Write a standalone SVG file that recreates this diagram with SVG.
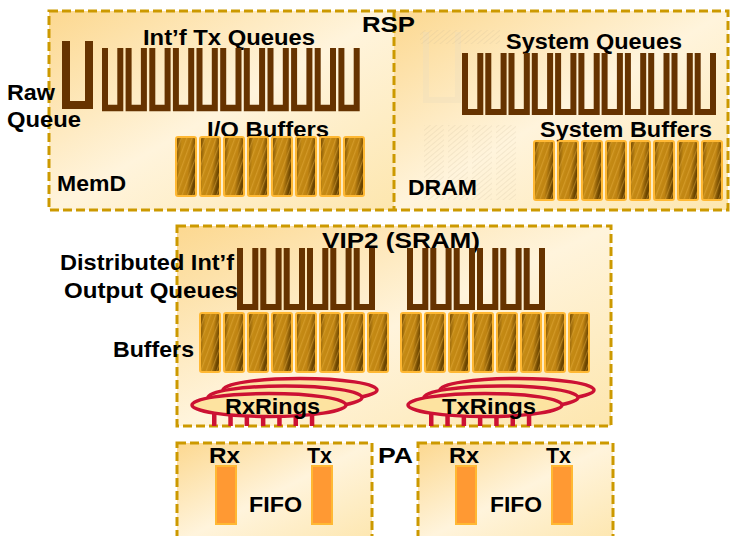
<svg xmlns="http://www.w3.org/2000/svg" width="731" height="536" viewBox="0 0 731 536">
<defs>
<style>
.box{stroke:#cc9900;stroke-width:3;stroke-dasharray:9 4;}
.t{font-family:"Liberation Sans",Arial,sans-serif;font-weight:bold;font-size:22px;fill:#000;}
.u{fill:none;stroke:#663300;stroke-width:6;stroke-linejoin:miter;}
.buf{fill:url(#bufG);stroke:#ffb833;stroke-width:2;}
.bufs{fill:url(#stripes);stroke:none;}
.ring{fill:#fde3a0;stroke:#cc1133;stroke-width:3.5;}
.pin{fill:#cc1133;}
.fifo{fill:#ff9933;stroke:#ffb833;stroke-width:2;}
.ghost{fill:url(#ghostP);stroke:none;opacity:0.35;}
</style>
<linearGradient id="bg" x1="0" y1="0" x2="1" y2="1">
<stop offset="0" stop-color="#fcd890"/>
<stop offset="0.5" stop-color="#fff4dc"/>
<stop offset="1" stop-color="#fde6ae"/>
</linearGradient>
<linearGradient id="bufG" x1="0" y1="0" x2="1" y2="0.25">
<stop offset="0" stop-color="#6a4200"/>
<stop offset="0.3" stop-color="#c48a14"/>
<stop offset="0.7" stop-color="#c08412"/>
<stop offset="1" stop-color="#6a4400"/>
</linearGradient>
<pattern id="stripes" width="5" height="5" patternUnits="userSpaceOnUse" patternTransform="rotate(20)">
<rect width="1.2" height="5" fill="#e8b040" opacity="0.45"/>
</pattern>
<pattern id="ghostP" width="4" height="4" patternUnits="userSpaceOnUse" patternTransform="rotate(-40)">
<rect width="4" height="1" fill="#c8b898" opacity="0.6"/>
</pattern>
<path id="U" class="u" d="M3,0 V57 H18.3 V0"/>
<path id="Ubig" d="M4,0 V64 H27 V0" fill="none" stroke="#663300" stroke-width="8"/>
<g id="B">
<rect class="buf" x="0" y="0" width="20" height="59" rx="2"/>
<rect class="bufs" x="1" y="1" width="18" height="57"/>
</g>
</defs>

<rect width="731" height="536" fill="#ffffff"/>

<g id="rsp">
<rect x="49" y="11" width="345" height="199" fill="url(#bg)"/>
<rect x="394" y="11" width="334" height="199" fill="url(#bg)"/>
<rect class="box" x="49" y="11" width="679" height="199" fill="none"/>
<line class="box" x1="394" y1="11" x2="394" y2="210"/>
<text class="t" x="362" y="32" textLength="53" lengthAdjust="spacingAndGlyphs">RSP</text>
</g>

<g id="dram-ghost">
<path d="M426,32 V100 H458 V32" fill="none" stroke="#eadcbc" stroke-width="6" opacity="0.35"/>
<rect class="ghost" x="424" y="125" width="20" height="75"/>
<rect class="ghost" x="448" y="125" width="20" height="75"/>
<rect class="ghost" x="472" y="125" width="20" height="75"/>
<rect class="ghost" x="496" y="125" width="20" height="75"/>
<rect class="ghost" x="420" y="30" width="80" height="14"/>
</g>

<g id="memd">
<text class="t" x="143" y="45" textLength="172" lengthAdjust="spacingAndGlyphs">Int’f Tx Queues</text>
<use href="#Ubig" x="62" y="41"/>
<use href="#U" transform="translate(102,48) scale(1,1.053)"/>
<use href="#U" transform="translate(125.6,48) scale(1,1.053)"/>
<use href="#U" transform="translate(149.3,48) scale(1,1.053)"/>
<use href="#U" transform="translate(172.9,48) scale(1,1.053)"/>
<use href="#U" transform="translate(196.5,48) scale(1,1.053)"/>
<use href="#U" transform="translate(220.2,48) scale(1,1.053)"/>
<use href="#U" transform="translate(243.8,48) scale(1,1.053)"/>
<use href="#U" transform="translate(267.5,48) scale(1,1.053)"/>
<use href="#U" transform="translate(291.1,48) scale(1,1.053)"/>
<use href="#U" transform="translate(314.7,48) scale(1,1.053)"/>
<use href="#U" transform="translate(338.4,48) scale(1,1.053)"/>
<text class="t" x="207" y="137" textLength="122" lengthAdjust="spacingAndGlyphs">I/O Buffers</text>
<use href="#B" x="176" y="137"/>
<use href="#B" x="200" y="137"/>
<use href="#B" x="224" y="137"/>
<use href="#B" x="248" y="137"/>
<use href="#B" x="272" y="137"/>
<use href="#B" x="296" y="137"/>
<use href="#B" x="320" y="137"/>
<use href="#B" x="344" y="137"/>
<text class="t" x="57" y="191" textLength="69" lengthAdjust="spacingAndGlyphs">MemD</text>
</g>

<g id="raw-queue">
<text class="t" x="7" y="100" textLength="48" lengthAdjust="spacingAndGlyphs">Raw</text>
<text class="t" x="7" y="127" textLength="74" lengthAdjust="spacingAndGlyphs">Queue</text>
</g>

<g id="dram">
<text class="t" x="506" y="49" textLength="176" lengthAdjust="spacingAndGlyphs">System Queues</text>
<use href="#U" transform="translate(462,53) scale(1,1.035)"/>
<use href="#U" transform="translate(485.3,53) scale(1,1.035)"/>
<use href="#U" transform="translate(508.5,53) scale(1,1.035)"/>
<use href="#U" transform="translate(531.8,53) scale(1,1.035)"/>
<use href="#U" transform="translate(555.1,53) scale(1,1.035)"/>
<use href="#U" transform="translate(578.4,53) scale(1,1.035)"/>
<use href="#U" transform="translate(601.6,53) scale(1,1.035)"/>
<use href="#U" transform="translate(624.9,53) scale(1,1.035)"/>
<use href="#U" transform="translate(648.2,53) scale(1,1.035)"/>
<use href="#U" transform="translate(671.5,53) scale(1,1.035)"/>
<use href="#U" transform="translate(694.7,53) scale(1,1.035)"/>
<text class="t" x="540" y="137" textLength="172" lengthAdjust="spacingAndGlyphs">System Buffers</text>
<use href="#B" x="534" y="141"/>
<use href="#B" x="558" y="141"/>
<use href="#B" x="582" y="141"/>
<use href="#B" x="606" y="141"/>
<use href="#B" x="630" y="141"/>
<use href="#B" x="654" y="141"/>
<use href="#B" x="678" y="141"/>
<use href="#B" x="702" y="141"/>
<text class="t" x="408" y="195" textLength="69" lengthAdjust="spacingAndGlyphs">DRAM</text>
</g>

<g id="vip2">
<rect class="box" x="177" y="226" width="434" height="200" fill="url(#bg)"/>
<text class="t" x="322" y="248" textLength="158" lengthAdjust="spacingAndGlyphs">VIP2 (SRAM)</text>
<use href="#U" transform="translate(237,248) scale(1,1.035)"/>
<use href="#U" transform="translate(260.3,248) scale(1,1.035)"/>
<use href="#U" transform="translate(283.7,248) scale(1,1.035)"/>
<use href="#U" transform="translate(307,248) scale(1,1.035)"/>
<use href="#U" transform="translate(330.3,248) scale(1,1.035)"/>
<use href="#U" transform="translate(353.7,248) scale(1,1.035)"/>
<use href="#U" transform="translate(407,248) scale(1,1.035)"/>
<use href="#U" transform="translate(430.3,248) scale(1,1.035)"/>
<use href="#U" transform="translate(453.7,248) scale(1,1.035)"/>
<use href="#U" transform="translate(477,248) scale(1,1.035)"/>
<use href="#U" transform="translate(500.3,248) scale(1,1.035)"/>
<use href="#U" transform="translate(523.7,248) scale(1,1.035)"/>
<use href="#B" x="200" y="313"/>
<use href="#B" x="224" y="313"/>
<use href="#B" x="248" y="313"/>
<use href="#B" x="272" y="313"/>
<use href="#B" x="296" y="313"/>
<use href="#B" x="320" y="313"/>
<use href="#B" x="344" y="313"/>
<use href="#B" x="368" y="313"/>
<use href="#B" x="401" y="313"/>
<use href="#B" x="425" y="313"/>
<use href="#B" x="449" y="313"/>
<use href="#B" x="473" y="313"/>
<use href="#B" x="497" y="313"/>
<use href="#B" x="521" y="313"/>
<use href="#B" x="545" y="313"/>
<use href="#B" x="569" y="313"/>
</g>

<g id="dist-labels">
<text class="t" x="60" y="270" textLength="174" lengthAdjust="spacingAndGlyphs">Distributed Int’f</text>
<text class="t" x="64" y="298" textLength="174" lengthAdjust="spacingAndGlyphs">Output Queues</text>
<text class="t" x="113" y="357" textLength="81" lengthAdjust="spacingAndGlyphs">Buffers</text>
</g>

<g id="rxrings">
<rect class="pin" x="212" y="414" width="4.5" height="12"/>
<rect class="pin" x="228.3" y="414" width="4.5" height="12"/>
<rect class="pin" x="244.6" y="414" width="4.5" height="12"/>
<rect class="pin" x="260.9" y="414" width="4.5" height="12"/>
<rect class="pin" x="277.2" y="414" width="4.5" height="12"/>
<rect class="pin" x="293.5" y="414" width="4.5" height="12"/>
<rect class="pin" x="309.8" y="414" width="4.5" height="12"/>
<ellipse class="ring" cx="300" cy="390" rx="77" ry="11.5"/>
<ellipse class="ring" cx="285" cy="397.5" rx="77" ry="11.5"/>
<ellipse class="ring" cx="269" cy="405" rx="77" ry="11.5"/>
<text class="t" x="225" y="414" textLength="95" lengthAdjust="spacingAndGlyphs">RxRings</text>
</g>

<g id="txrings">
<rect class="pin" x="429" y="414" width="4.5" height="12"/>
<rect class="pin" x="445.3" y="414" width="4.5" height="12"/>
<rect class="pin" x="461.6" y="414" width="4.5" height="12"/>
<rect class="pin" x="477.9" y="414" width="4.5" height="12"/>
<rect class="pin" x="494.2" y="414" width="4.5" height="12"/>
<rect class="pin" x="510.5" y="414" width="4.5" height="12"/>
<rect class="pin" x="526.8" y="414" width="4.5" height="12"/>
<ellipse class="ring" cx="517" cy="390" rx="77" ry="11.5"/>
<ellipse class="ring" cx="501" cy="397.5" rx="77" ry="11.5"/>
<ellipse class="ring" cx="485" cy="405" rx="77" ry="11.5"/>
<text class="t" x="442" y="414" textLength="94" lengthAdjust="spacingAndGlyphs">TxRings</text>
</g>

<g id="pa1">
<rect class="box" x="177" y="443" width="195" height="100" fill="url(#bg)"/>
<text class="t" x="209" y="463" textLength="31" lengthAdjust="spacingAndGlyphs">Rx</text>
<text class="t" x="307" y="463" textLength="25" lengthAdjust="spacingAndGlyphs">Tx</text>
<rect class="fifo" x="216" y="466" width="20" height="58"/>
<rect class="fifo" x="312" y="466" width="20" height="58"/>
<text class="t" x="249" y="512" textLength="53" lengthAdjust="spacingAndGlyphs">FIFO</text>
</g>

<g id="pa-label">
<text class="t" x="378" y="463" textLength="35" lengthAdjust="spacingAndGlyphs">PA</text>
</g>

<g id="pa2">
<rect class="box" x="418" y="443" width="195" height="100" fill="url(#bg)"/>
<text class="t" x="449" y="463" textLength="30" lengthAdjust="spacingAndGlyphs">Rx</text>
<text class="t" x="546" y="463" textLength="25" lengthAdjust="spacingAndGlyphs">Tx</text>
<rect class="fifo" x="456" y="466" width="20" height="58"/>
<rect class="fifo" x="552" y="466" width="20" height="58"/>
<text class="t" x="490" y="512" textLength="52" lengthAdjust="spacingAndGlyphs">FIFO</text>
</g>

<g id="connectors"></g>
</svg>
